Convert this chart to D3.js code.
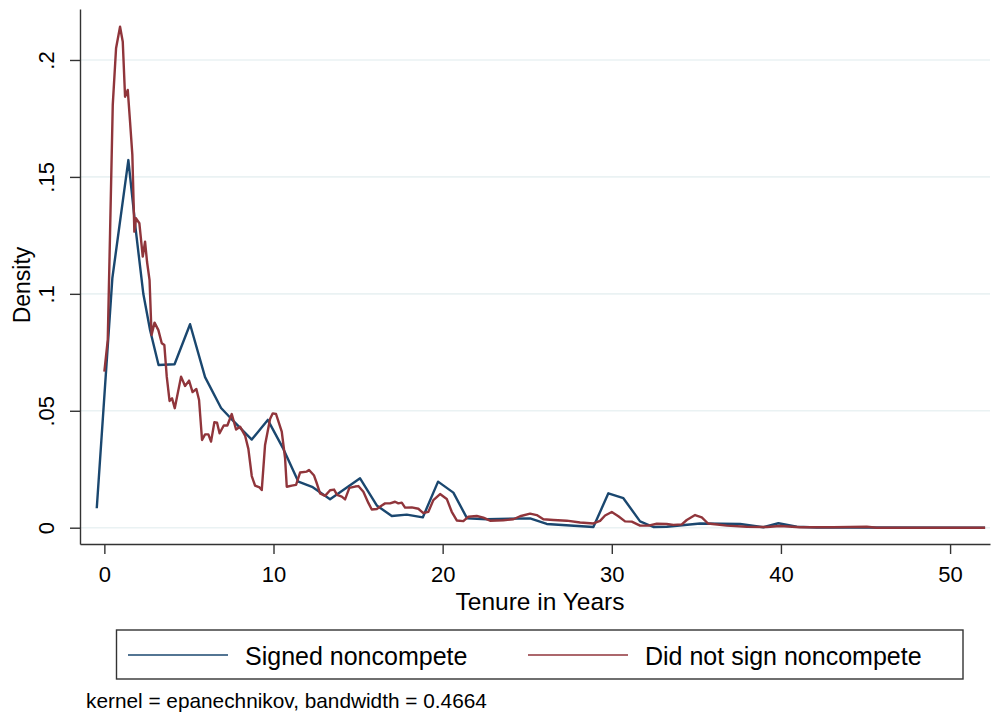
<!DOCTYPE html>
<html>
<head>
<meta charset="utf-8">
<script src="https://cdn.jsdelivr.net/npm/d3@7"></script>
<style>
  html, body { margin: 0; padding: 0; background: #fff; }
  svg { display: block; font-family: "Liberation Sans", Arial, Helvetica, sans-serif; }
</style>
</head>
<body>
<svg id="chart" width="992" height="717"></svg>
<script>
// Kernel density of job tenure, by noncompete status (Epanechnikov kernel)
const seriesNames = ["Signed noncompete", "Did not sign noncompete"];
const seriesColors = ["#1a476f", "#90353b"];

// Signed noncompete: [tenure in years, density]
const signedTenure = [-0.449, 0.473, 1.419, 1.856, 2.306, 2.702, 3.204, 4.150, 5.067, 5.954,
  6.900, 7.432, 8.715, 9.661, 10.583, 11.470, 12.280, 13.344, 15.118, 16.105,
  16.992, 17.879, 18.825, 19.729, 20.634, 21.444, 22.609, 25.169, 26.156, 28.911,
  29.798, 30.685, 31.672, 32.458, 33.250, 35.219, 37.584, 38.962, 39.849, 40.936,
  42.119, 44.088, 52.070];
const signedDensity = [0.0083, 0.1067, 0.1572, 0.1273, 0.0999, 0.0845, 0.0696, 0.0699, 0.0870, 0.0644,
  0.0512, 0.0471, 0.0377, 0.0461, 0.0337, 0.0197, 0.0175, 0.0122, 0.0211, 0.0095,
  0.0050, 0.0056, 0.0044, 0.0197, 0.0150, 0.0040, 0.0036, 0.0040, 0.0016, 0.0003,
  0.0147, 0.0126, 0.0027, 0.0003, 0.0004, 0.0018, 0.0016, 0.0002, 0.0019, 0.0004,
  0.0001, 0.0001, 0.0000];

// Did not sign noncompete: [tenure in years, density]
const notSignedTenure = [0.000, 0.201, 0.337, 0.497, 0.692, 0.928, 1.088, 1.224, 1.383, 1.519,
  1.655, 1.774, 1.874, 2.069, 2.270, 2.406, 2.525, 2.672, 2.791, 2.968,
  3.193, 3.394, 3.547, 3.689, 3.855, 4.003, 4.162, 4.535, 4.771, 5.008,
  5.215, 5.439, 5.599, 5.776, 5.954, 6.149, 6.308, 6.504, 6.663, 6.811,
  7.059, 7.272, 7.532, 7.786, 8.023, 8.319, 8.514, 8.715, 8.910, 9.176,
  9.306, 9.501, 9.797, 9.956, 10.151, 10.488, 10.683, 10.784, 11.080, 11.334,
  11.570, 11.966, 12.102, 12.398, 12.558, 12.753, 13.048, 13.344, 13.580, 13.758,
  14.036, 14.231, 14.485, 14.822, 15.017, 15.313, 15.608, 15.810, 16.105, 16.401,
  16.596, 16.891, 17.187, 17.382, 17.583, 17.778, 18.174, 18.564, 18.842, 19.156,
  19.451, 19.847, 20.243, 20.539, 20.835, 21.225, 21.521, 22.017, 22.408, 22.804,
  23.590, 24.181, 24.577, 25.169, 25.565, 25.955, 26.546, 27.338, 28.125, 28.911,
  29.307, 29.603, 29.999, 30.389, 30.785, 31.181, 31.672, 32.163, 32.660, 33.251,
  33.641, 34.138, 34.433, 34.924, 35.320, 35.692, 36.798, 37.981, 39.163, 39.950,
  41.132, 43.100, 45.075, 45.666, 52.070];
const notSignedDensity = [0.0667, 0.0803, 0.1259, 0.1808, 0.2050, 0.2142, 0.2078, 0.1843, 0.1872, 0.1736,
  0.1594, 0.1266, 0.1323, 0.1302, 0.1159, 0.1223, 0.1136, 0.1059, 0.0824, 0.0877,
  0.0845, 0.0789, 0.0781, 0.0646, 0.0542, 0.0553, 0.0511, 0.0646, 0.0606, 0.0629,
  0.0580, 0.0593, 0.0546, 0.0375, 0.0399, 0.0399, 0.0368, 0.0451, 0.0449, 0.0404,
  0.0437, 0.0437, 0.0486, 0.0420, 0.0432, 0.0394, 0.0337, 0.0221, 0.0180, 0.0172,
  0.0161, 0.0354, 0.0465, 0.0489, 0.0486, 0.0411, 0.0298, 0.0175, 0.0180, 0.0183,
  0.0236, 0.0240, 0.0247, 0.0223, 0.0190, 0.0147, 0.0136, 0.0160, 0.0163, 0.0140,
  0.0133, 0.0121, 0.0170, 0.0176, 0.0178, 0.0154, 0.0106, 0.0078, 0.0080, 0.0095,
  0.0104, 0.0104, 0.0111, 0.0104, 0.0107, 0.0086, 0.0087, 0.0081, 0.0063, 0.0068,
  0.0118, 0.0144, 0.0123, 0.0068, 0.0031, 0.0028, 0.0047, 0.0050, 0.0043, 0.0030,
  0.0032, 0.0036, 0.0049, 0.0060, 0.0054, 0.0036, 0.0033, 0.0030, 0.0022, 0.0018,
  0.0029, 0.0052, 0.0067, 0.0049, 0.0027, 0.0026, 0.0009, 0.0009, 0.0017, 0.0016,
  0.0012, 0.0014, 0.0033, 0.0054, 0.0044, 0.0018, 0.0009, 0.0004, 0.0003, 0.0007,
  0.0002, 0.0002, 0.0004, 0.0000, 0.0000];

const xTickValues = [0, 10, 20, 30, 40, 50];
const xTickLabels = ["0", "10", "20", "30", "40", "50"];
const yTickValues = [0, 0.05, 0.1, 0.15, 0.2];
const yTickLabels = ["0", ".05", ".1", ".15", ".2"];

const xTitle = "Tenure in Years";
const yTitle = "Density";
const note = "kernel = epanechnikov, bandwidth = 0.4664";

const svg = d3.select("#chart");

const x = d3.scaleLinear().domain([-1.44, 52.36]).range([80, 990]);
const y = d3.scaleLinear().domain([-0.00697, 0.2218]).range([544, 9]);

// horizontal gridlines
svg.append("g").selectAll("line").data(yTickValues).join("line")
  .attr("x1", x.range()[0]).attr("x2", x.range()[1])
  .attr("y1", d => y(d)).attr("y2", d => y(d))
  .attr("stroke", "#eaf2f3").attr("stroke-width", 1.6);

// density curves
const line = d3.line().x(d => x(d[0])).y(d => y(d[1]));
const series = [
  d3.zip(signedTenure, signedDensity),
  d3.zip(notSignedTenure, notSignedDensity)
];
svg.append("g").selectAll("path").data(series).join("path")
  .attr("d", line)
  .attr("fill", "none")
  .attr("stroke", (d, i) => seriesColors[i])
  .attr("stroke-width", 2.4)
  .attr("stroke-linejoin", "round");

// y axis
const yAxis = svg.append("g").attr("transform", `translate(${x.range()[0]},0)`)
  .call(d3.axisLeft(y).tickValues(yTickValues)
    .tickFormat((d, i) => yTickLabels[i]).tickSize(10).tickSizeOuter(0));
yAxis.select(".domain").attr("stroke", "#333").attr("stroke-width", 1.4);
yAxis.selectAll(".tick line").attr("stroke", "#333").attr("stroke-width", 1.4);
yAxis.selectAll(".tick text")
  .attr("x", null).attr("dy", null)
  .attr("transform", "translate(-26.5,0) rotate(-90)")
  .attr("text-anchor", "middle")
  .attr("font-size", 22).attr("fill", "#000");

// x axis
const xAxis = svg.append("g").attr("transform", `translate(0,${y.range()[0]})`)
  .call(d3.axisBottom(x).tickValues(xTickValues)
    .tickFormat((d, i) => xTickLabels[i]).tickSize(10).tickSizeOuter(0));
xAxis.select(".domain").attr("stroke", "#333").attr("stroke-width", 1.4);
xAxis.selectAll(".tick line").attr("stroke", "#333").attr("stroke-width", 1.4);
xAxis.selectAll(".tick text")
  .attr("y", 38).attr("dy", null)
  .attr("font-size", 22).attr("fill", "#000");

// axis titles
svg.append("text")
  .attr("x", 540).attr("y", 610)
  .attr("text-anchor", "middle").attr("font-size", 24.5)
  .text(xTitle);
svg.append("text")
  .attr("transform", "translate(30,285) rotate(-90)")
  .attr("text-anchor", "middle").attr("font-size", 23)
  .text(yTitle);

// legend
const legend = svg.append("g");
legend.append("rect")
  .attr("x", 116.5).attr("y", 630).attr("width", 846.5).attr("height", 49)
  .attr("fill", "#fff").attr("stroke", "#333").attr("stroke-width", 1.4);
const legendX = [128, 528];
seriesNames.forEach((name, i) => {
  legend.append("line")
    .attr("x1", legendX[i]).attr("x2", legendX[i] + 100)
    .attr("y1", 655).attr("y2", 655)
    .attr("stroke", seriesColors[i]).attr("stroke-width", 1.6);
  legend.append("text")
    .attr("x", legendX[i] + 117).attr("y", 665)
    .attr("font-size", 25)
    .text(name);
});

// kernel note
svg.append("text")
  .attr("x", 86).attr("y", 708)
  .attr("font-size", 20.8)
  .text(note);
</script>
</body>
</html>
